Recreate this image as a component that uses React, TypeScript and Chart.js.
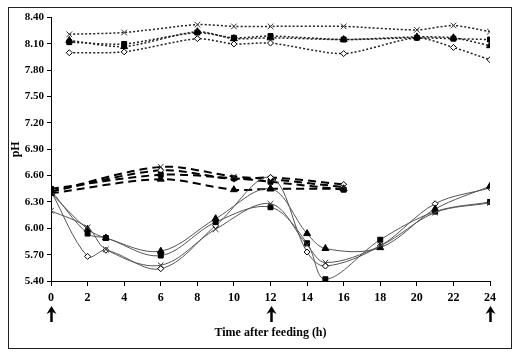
import React, { useEffect, useRef } from "react";
import { Chart, registerables } from "chart.js";

Chart.register(...registerables);

// Hours at which each group was sampled
const dottedHours = [1, 4, 8, 10, 12, 16, 20, 22, 24];
const dashedHours = [0, 6, 10, 12, 16];
const solidHours = [0, 2, 3, 6, 9, 12, 14, 15, 18, 21, 24];

// Dotted (top) series
const dottedCross = [8.21, 8.23, 8.32, 8.3, 8.3, 8.3, 8.26, 8.31, 8.24];
const dottedSquare = [8.12, 8.1, 8.23, 8.17, 8.19, 8.15, 8.17, 8.16, 8.15];
const dottedTriangle = [8.14, 8.07, 8.24, 8.16, 8.17, 8.15, 8.18, 8.17, 8.08];
const dottedDiamond = [8.0, 8.01, 8.16, 8.1, 8.11, 7.99, 8.17, 8.06, 7.92];

// Dashed (middle) series
const dashedCross = [6.42, 6.7, 6.59, 6.56, 6.47];
const dashedSquare = [6.45, 6.61, 6.57, 6.53, 6.44];
const dashedTriangle = [6.4, 6.56, 6.44, 6.45, 6.45];
const dashedDiamond = [6.42, 6.66, 6.56, 6.58, 6.5];

// Solid (bottom) series
const solidCross = [6.2, 6.01, 5.76, 5.58, 5.99, 6.28, 5.81, 5.61, 5.8, 6.18, 6.29];
const solidSquare = [6.43, 5.94, 5.89, 5.69, 6.07, 6.24, 5.83, 5.42, 5.87, 6.19, 6.3];
const solidTriangle = [6.4, 5.99, 5.89, 5.74, 6.11, 6.45, 5.94, 5.77, 5.78, 6.22, 6.48];
const solidDiamond = [6.42, 5.68, 5.75, 5.54, 6.03, 6.58, 5.73, 5.57, 5.8, 6.28, 6.46];

// Axis settings
const xMin = 0;
const xMax = 24;
const xStep = 2;
const yMin = 5.4;
const yMax = 8.4;
const yStep = 0.3;
const feedingHours = [0, 12, 24];

const FONT = "'Liberation Serif', 'Times New Roman', serif";

type Marker = "crossRot" | "rect" | "triangle" | "rectRot";

function pts(hours: number[], vals: number[]) {
  return hours.map((h, i) => ({ x: h, y: vals[i] }));
}

function ds(
  hours: number[],
  vals: number[],
  marker: Marker,
  kind: "dotted" | "dashed" | "solid"
) {
  const line =
    kind === "dotted"
      ? { borderColor: "#222", borderWidth: 1.5, borderDash: [2, 2], tension: 0.25 }
      : kind === "dashed"
      ? { borderColor: "#000", borderWidth: 2, borderDash: [8, 5], tension: 0.3 }
      : { borderColor: "#555", borderWidth: 1, borderDash: [], tension: 0.35 };
  const radius = marker === "crossRot" ? 4 : marker === "triangle" ? 4 : marker === "rectRot" ? 3 : 3.5;
  return {
    data: pts(hours, vals),
    ...line,
    pointStyle: marker,
    pointRadius: radius,
    pointBackgroundColor: marker === "rectRot" ? "#fff" : "#000",
    pointBorderColor: marker === "crossRot" ? "#333" : "#000",
    pointBorderWidth: 1,
    fill: false,
  };
}

const arrowPlugin = {
  id: "feedArrows",
  afterDraw(chart: any) {
    const ctx = chart.ctx;
    const xs = chart.scales.x;
    const base = chart.chartArea.bottom;
    ctx.save();
    ctx.fillStyle = "#000";
    ctx.strokeStyle = "#000";
    feedingHours.forEach((h) => {
      const x = Math.round(xs.getPixelForValue(h)) + 0.5;
      const top = base + 25;
      const bottom = base + 41;
      ctx.lineWidth = 2.5;
      ctx.beginPath();
      ctx.moveTo(x, top + 4);
      ctx.lineTo(x, bottom);
      ctx.stroke();
      ctx.beginPath();
      ctx.moveTo(x, top);
      ctx.lineTo(x - 5, top + 8);
      ctx.lineTo(x, top + 5.5);
      ctx.lineTo(x + 5, top + 8);
      ctx.closePath();
      ctx.fill();
    });
    ctx.restore();
  },
};

export default function App() {
  const ref = useRef<HTMLCanvasElement | null>(null);

  useEffect(() => {
    if (!ref.current) return;
    const chart = new Chart(ref.current, {
      type: "line",
      data: {
        datasets: [
          ds(solidHours, solidCross, "crossRot", "solid"),
          ds(solidHours, solidSquare, "rect", "solid"),
          ds(solidHours, solidTriangle, "triangle", "solid"),
          ds(solidHours, solidDiamond, "rectRot", "solid"),
          ds(dashedHours, dashedCross, "crossRot", "dashed"),
          ds(dashedHours, dashedSquare, "rect", "dashed"),
          ds(dashedHours, dashedTriangle, "triangle", "dashed"),
          ds(dashedHours, dashedDiamond, "rectRot", "dashed"),
          ds(dottedHours, dottedCross, "crossRot", "dotted"),
          ds(dottedHours, dottedSquare, "rect", "dotted"),
          ds(dottedHours, dottedTriangle, "triangle", "dotted"),
          ds(dottedHours, dottedDiamond, "rectRot", "dotted"),
        ] as any,
      },
      options: {
        responsive: false,
        animation: false,
        layout: { padding: { left: 0, top: 7, right: 21, bottom: 0 } },
        plugins: {
          legend: { display: false },
          tooltip: { enabled: false },
        },
        scales: {
          x: {
            type: "linear",
            min: xMin,
            max: xMax,
            afterFit: (s: any) => {
              s.height = 67;
            },
            grid: {
              display: true,
              drawOnChartArea: false,
              drawTicks: true,
              tickLength: 5,
              color: "#000",
            },
            border: { display: true, color: "#000", width: 1 },
            ticks: {
              stepSize: xStep,
              padding: 5,
              color: "#000",
              font: { family: FONT, size: 12, weight: "bold" },
              maxRotation: 0,
            },
            title: {
              display: true,
              text: "Time after feeding (h)",
              color: "#000",
              font: { family: FONT, size: 12, weight: "bold" },
              padding: { top: 0, bottom: 8 },
            },
          },
          y: {
            type: "linear",
            min: yMin,
            max: yMax,
            afterFit: (s: any) => {
              s.width = 42;
            },
            grid: {
              display: true,
              drawOnChartArea: false,
              drawTicks: true,
              tickLength: 4,
              color: "#000",
            },
            border: { display: true, color: "#000", width: 1 },
            ticks: {
              stepSize: yStep,
              padding: 3,
              color: "#000",
              font: { family: FONT, size: 11, weight: "bold" },
              callback: (v: any) => Number(v).toFixed(2),
            },
            title: {
              display: true,
              text: "pH",
              color: "#000",
              font: { family: FONT, size: 12, weight: "bold" },
              padding: { top: 0, bottom: 0 },
            },
          },
        },
      } as any,
      plugins: [arrowPlugin],
    });
    return () => chart.destroy();
  }, []);

  return (
    <div
      style={{
        position: "absolute",
        left: 8,
        top: 7,
        width: 502,
        height: 340,
        border: "1px solid #222",
        background: "#fff",
      }}
    >
      <canvas ref={ref} width={502} height={340} style={{ display: "block" }} />
    </div>
  );
}
